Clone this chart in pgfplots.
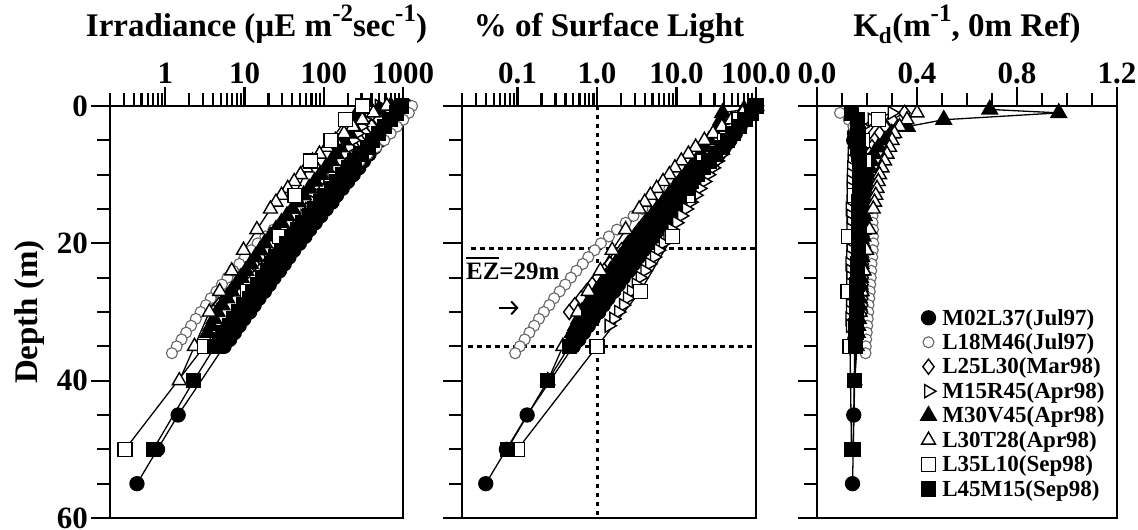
\documentclass[border=0pt]{standalone}
\usepackage{pgfplots}
\pgfplotsset{compat=1.18}
\usepackage{pgfplotstable}
\usepackage{fontspec}
\setmainfont{Liberation Serif}
\usetikzlibrary{arrows.meta}
\newcommand\tickfont{\fontsize{31}{31}\selectfont\bfseries}
\newcommand\titlefont{\fontsize{33}{33}\selectfont\bfseries}
\newcommand\legfont{\fontsize{23}{24}\selectfont\bfseries}
\newcommand\annfont{\fontsize{25}{25}\selectfont\bfseries}
\newcommand\sups[1]{\raisebox{0.45em}{\fontsize{25}{25}\selectfont #1}}

% z = depth (m), I = irradiance, P = % of surface light, K = Kd (0 m ref)
\pgfplotstableread{
z I P K
0 1100 100 nan
1 958 87.1 0.138
2 815 74.1 0.150
3 694 63.1 0.154
4 605 55.0 0.150
5 515 46.8 0.147
6 438 39.8 0.154
7 373 33.9 0.155
8 317 28.8 0.155
9 276 25.1 0.158
10 235 21.4 0.154
11 200 18.2 0.155
12 171 15.5 0.155
13 145 13.2 0.151
14 127 11.5 0.155
15 107 9.77 0.155
16 91.5 8.32 0.155
17 77.9 7.08 0.160
18 66.3 6.03 0.156
19 57.8 5.25 0.155
20 49.2 4.47 0.155
21 41.8 3.80 0.152
22 36.4 3.31 0.155
23 31.7 2.88 0.154
24 27.6 2.51 0.154
25 23.5 2.14 0.157
26 20.5 1.86 0.153
27 17.8 1.62 0.153
28 15.2 1.38 0.153
29 13.2 1.20 0.149
30 11.6 1.05 0.152
31 9.80 0.891 0.152
32 8.54 0.776 0.152
33 7.44 0.676 0.154
34 6.48 0.589 0.151
35 5.51 0.501 0.151
45 1.45 0.132 0.147
50 0.796 0.0724 0.145
55 0.438 0.0398 0.142
}\tA
\pgfplotstableread{
z I P K
0 1300 100 nan
1 1186 91.2 0.092
2 1009 77.6 0.127
3 840 64.6 0.146
4 698 53.7 0.155
5 581 44.7 0.161
6 462 35.5 0.173
7 358 27.5 0.184
8 285 21.9 0.190
9 221 17.0 0.197
10 176 13.5 0.200
11 137 10.5 0.205
12 106 8.13 0.209
13 80.2 6.17 0.214
14 62.3 4.79 0.217
15 48.4 3.72 0.220
16 37.4 2.88 0.222
17 29.8 2.29 0.222
18 23.1 1.78 0.224
19 18.3 1.41 0.224
20 14.6 1.12 0.225
21 12.1 0.933 0.223
22 10.1 0.776 0.221
23 8.59 0.661 0.218
24 7.15 0.550 0.217
25 6.08 0.468 0.215
26 5.17 0.398 0.213
27 4.41 0.339 0.211
28 3.74 0.288 0.209
29 3.26 0.251 0.206
30 2.78 0.214 0.205
31 2.42 0.186 0.203
32 2.11 0.162 0.201
33 1.83 0.141 0.199
34 1.60 0.123 0.197
35 1.39 0.107 0.195
36 1.21 0.0933 0.194
}\tB
\pgfplotstableread{
z I P K
0 900 100 nan
1 637 70.8 0.35
2 495 55.0 0.30
3 402 44.7 0.27
4 335 37.2 0.25
5 284 31.6 0.23
6 242 26.9 0.22
7 206 22.9 0.21
8 176 19.5 0.205
9 149 16.6 0.20
10 124 13.8 0.198
11 104 11.5 0.197
12 86.0 9.55 0.196
13 71.5 7.94 0.194
14 60.8 6.76 0.193
15 50.6 5.62 0.192
16 43.1 4.79 0.190
17 35.8 3.98 0.189
18 30.5 3.39 0.188
19 26.6 2.95 0.186
20 22.1 2.45 0.185
21 18.4 2.04 0.185
22 15.7 1.74 0.184
23 13.1 1.45 0.184
24 11.1 1.23 0.183
25 9.18 1.02 0.183
26 7.84 0.871 0.182
27 6.67 0.741 0.182
28 5.68 0.631 0.181
29 4.73 0.525 0.181
30 4.02 0.447 0.180
}\tC
\pgfplotstableread{
z I P K
0 500 100 nan
1 371 74.1 0.30
2 323 64.6 0.22
3 295 58.9 0.18
4 263 52.5 0.16
5 234 46.8 0.15
6 209 41.7 0.145
7 186 37.2 0.14
8 162 32.4 0.14
9 144 28.8 0.138
10 126 25.1 0.137
11 112 22.4 0.136
12 97.5 19.5 0.136
13 87.0 17.4 0.138
14 75.5 15.1 0.135
15 66.0 13.2 0.132
16 57.5 11.5 0.135
17 50.0 10.0 0.137
18 43.6 8.71 0.135
19 38.8 7.76 0.133
20 33.8 6.76 0.135
21 29.5 5.89 0.136
22 26.3 5.25 0.134
23 22.9 4.57 0.131
24 19.9 3.98 0.134
25 17.4 3.47 0.135
26 15.5 3.09 0.134
27 13.5 2.69 0.132
28 12.0 2.40 0.133
29 10.7 2.14 0.134
30 9.30 1.86 0.133
31 8.10 1.62 0.131
32 7.05 1.41 0.133
}\tD
\pgfplotstableread{
z I P K
0 700 100 nan
0.5 496 70.8 0.691
1 266 38.0 0.967
2 254 36.3 0.507
3 237 33.9 0.361
4 211 30.2 0.299
5 180 25.7 0.272
6 160 22.9 0.246
7 143 20.4 0.227
8 125 17.8 0.216
9 106 15.1 0.210
10 90.3 12.9 0.205
11 77.0 11.0 0.201
12 65.3 9.33 0.198
13 55.6 7.94 0.195
14 47.3 6.76 0.192
15 40.3 5.75 0.190
16 34.3 4.90 0.189
17 29.2 4.17 0.187
18 24.9 3.55 0.185
19 21.1 3.02 0.184
20 18.0 2.57 0.183
21 15.7 2.24 0.181
22 13.7 1.95 0.179
23 11.9 1.70 0.177
24 10.4 1.48 0.176
25 9.03 1.29 0.174
26 7.84 1.12 0.173
27 6.84 0.977 0.171
28 5.96 0.851 0.170
29 5.19 0.741 0.169
30 4.52 0.646 0.168
31 4.12 0.589 0.166
32 3.76 0.537 0.163
33 3.43 0.490 0.161
}\tE
\pgfplotstableread{
z I P K
0 625 100 nan
1 423 67.6 0.40
2 306 49.0 0.36
3 233 37.2 0.33
4 180 28.8 0.31
5 140 22.4 0.30
6 109 17.4 0.29
7 88.1 14.1 0.28
8 71.9 11.5 0.27
9 59.7 9.55 0.26
10 50.8 8.13 0.25
11 42.3 6.76 0.245
12 35.1 5.62 0.24
13 29.3 4.68 0.235
14 24.9 3.98 0.23
15 21.2 3.39 0.225
18 14.3 2.29 0.21
21 9.69 1.55 0.198
24 6.88 1.10 0.188
27 4.85 0.776 0.18
30 3.59 0.575 0.172
35 2.33 0.372 0.16
40 1.50 0.240 0.151
}\tF
\pgfplotstableread{
z I P K
0 310 100 nan
2 189 61.0 0.247
5 124 40.0 0.183
8 68.2 22.0 0.189
13 43.4 14.0 0.151
19 27.6 8.90 0.127
27 10.9 3.50 0.124
35 3.10 1.00 0.132
50 0.310 0.100 0.138
}\tG
\pgfplotstableread{
z I P K
0 950 100 nan
1 827 87.1 0.138
2 688 72.4 0.161
3 586 61.7 0.161
4 487 51.3 0.167
5 415 43.7 0.166
6 361 38.0 0.161
7 294 30.9 0.168
8 244 25.7 0.170
9 208 21.9 0.169
10 173 18.2 0.170
11 147 15.5 0.170
12 125 13.2 0.169
13 102 10.7 0.172
14 90.7 9.55 0.168
15 77.2 8.13 0.167
16 65.7 6.92 0.167
17 54.6 5.75 0.168
18 46.6 4.90 0.168
19 39.6 4.17 0.167
20 33.7 3.55 0.167
21 29.4 3.09 0.166
22 24.4 2.57 0.166
23 22.2 2.34 0.163
24 19.4 2.04 0.162
25 16.9 1.78 0.161
26 14.7 1.55 0.160
27 12.8 1.35 0.159
28 11.7 1.23 0.157
29 9.69 1.02 0.158
30 8.46 0.891 0.157
31 7.37 0.776 0.157
32 6.42 0.676 0.156
33 5.46 0.575 0.156
34 4.87 0.513 0.155
35 4.25 0.447 0.155
40 2.28 0.240 0.151
50 0.704 0.0741 0.144
}\tH

\pgfplotsset{
  panel/.style={
    scale only axis, height=412pt, ymin=0, ymax=60, y dir=reverse, clip=false,
    axis line style={line width=2.6pt},
    tick align=outside,
    xtick pos=right, xticklabel pos=right,
    ytick pos=left, yticklabel pos=left,
    ytick={0,20,40,60}, minor ytick={5,10,15,25,30,35,45,50,55},
    major tick length=19pt, minor tick length=13pt,
    every tick/.append style={black, line width=2.2pt},
    every minor tick/.append style={black, line width=2.2pt},
    tick label style={font=\tickfont, inner sep=3pt},
    /pgf/number format/assume math mode=true,
    title style={font=\titlefont, at={(axis description cs:0.5,1.155)}, anchor=base},
  },
  sA/.style={black, line width=1.3pt, mark=*, mark size=7pt, mark options={solid, fill=black}},
  sB/.style={black!60, line width=1.1pt, mark=*, mark size=5.5pt, mark options={solid, fill=white, draw=black!60, line width=1.1pt}},
  sC/.style={black, line width=1.3pt, mark=diamond*, mark size=7.5pt, mark options={solid, fill=white, line width=1.4pt}},
  sD/.style={black, line width=1.3pt, mark=triangle*, mark size=7.5pt, mark options={solid, fill=white, rotate=-90, line width=1.4pt}},
  sE/.style={black, line width=1.3pt, mark=triangle*, mark size=9pt, mark options={solid, fill=black}},
  sF/.style={black, line width=1.3pt, mark=triangle*, mark size=8pt, mark options={solid, fill=white, line width=1.4pt}},
  sG/.style={black, line width=1.3pt, mark=square*, mark size=7pt, mark options={solid, fill=white, line width=1.4pt}},
  sH/.style={black, line width=1.3pt, mark=square*, mark size=7pt, mark options={solid, fill=black}},
}

\begin{document}
\begin{tikzpicture}
\useasboundingbox (0,0) rectangle (1138pt,530pt);

% Panel 1: irradiance
\begin{axis}[panel, at={(110pt,12pt)}, anchor=south west, width=293pt,
  xmode=log, xmin=0.2, xmax=1000,
  xtick={1,10,100,1000}, xticklabels={1,10,100,1000},
  minor xtick={0.2,0.3,0.4,0.5,0.6,0.7,0.8,0.9,2,3,4,5,6,7,8,9,20,30,40,50,60,70,80,90,200,300,400,500,600,700,800,900},
  yticklabels={0,20,40,60},
  ylabel={Depth (m)},
  ylabel style={font=\titlefont, at={(axis description cs:-0.273,0.5)}, anchor=center},
  title={Irradiance (µE m\sups{-2}sec\sups{-1})}]
\addplot[sA] table[x=I,y=z] {\tA};
\addplot[sB] table[x=I,y=z] {\tB};
\addplot[sC] table[x=I,y=z] {\tC};
\addplot[sD] table[x=I,y=z] {\tD};
\addplot[sE] table[x=I,y=z] {\tE};
\addplot[sF] table[x=I,y=z] {\tF};
\addplot[sG] table[x=I,y=z] {\tG};
\addplot[sH] table[x=I,y=z] {\tH};
\end{axis}

% Panel 2: % of surface light
\begin{axis}[panel, at={(462pt,12pt)}, anchor=south west, width=294pt,
  xmode=log, xmin=0.02, xmax=100,
  xtick={0.1,1,10,100}, xticklabels={0.1,1.0,10.0,100.0},
  minor xtick={0.02,0.03,0.04,0.05,0.06,0.07,0.08,0.09,0.2,0.3,0.4,0.5,0.6,0.7,0.8,0.9,2,3,4,5,6,7,8,9,20,30,40,50,60,70,80,90},
  yticklabels={,,},
  title={\% of Surface Light}]
\draw[line width=3pt, dash pattern=on 4pt off 5pt] (axis cs:1,0) -- (axis cs:1,60);
\draw[line width=3pt, dash pattern=on 5pt off 4pt] (axis cs:0.026,20.8) -- (axis cs:100,20.8);
\draw[line width=3pt, dash pattern=on 5pt off 4pt] (axis cs:0.024,35) -- (axis cs:100,35);
\addplot[sA] table[x=P,y=z] {\tA};
\addplot[sB] table[x=P,y=z] {\tB};
\addplot[sC] table[x=P,y=z] {\tC};
\addplot[sD] table[x=P,y=z] {\tD};
\addplot[sE] table[x=P,y=z] {\tE};
\addplot[sF] table[x=P,y=z] {\tF};
\addplot[sG] table[x=P,y=z] {\tG};
\addplot[sH] table[x=P,y=z] {\tH};
\node[anchor=base west, font=\annfont, inner sep=0pt] at (axis cs:0.0224,25.3) {\makebox[0pt][l]{\rule[0.82em]{1.3em}{2.2pt}}EZ=29m};
\draw[line width=2pt, -{Straight Barb[length=6pt,width=13pt]}] (axis cs:0.058,29.4) -- (axis cs:0.103,29.4);
\end{axis}

% Panel 3: Kd
\begin{axis}[panel, at={(817pt,12pt)}, anchor=south west, width=300pt,
  xmin=0, xmax=1.2,
  xtick={0,0.4,0.8,1.2}, xticklabels={0.0,0.4,0.8,1.2},
  minor xtick={0.1,0.2,0.3,0.5,0.6,0.7,0.9,1.0,1.1},
  yticklabels={,,},
  title={K\textsubscript{d}(m\sups{-1}, 0m Ref)},
  legend cell align=left,
  legend style={at={(axis description cs:0.345,0.51)}, anchor=north west, draw=none, fill=none,
    font=\legfont, inner sep=0pt, row sep=5pt, column sep=5pt, nodes={inner sep=1pt}},
  legend image code/.code={\draw[#1] plot[only marks] coordinates {(0pt,0pt)};}]
\addplot[sA] table[x=K,y=z] {\tA}; \addlegendentry{M02L37(Jul97)}
\addplot[sB] table[x=K,y=z] {\tB}; \addlegendentry{L18M46(Jul97)}
\addplot[sC] table[x=K,y=z] {\tC}; \addlegendentry{L25L30(Mar98)}
\addplot[sD] table[x=K,y=z] {\tD}; \addlegendentry{M15R45(Apr98)}
\addplot[sE] table[x=K,y=z] {\tE}; \addlegendentry{M30V45(Apr98)}
\addplot[sF] table[x=K,y=z] {\tF}; \addlegendentry{L30T28(Apr98)}
\addplot[sG] table[x=K,y=z] {\tG}; \addlegendentry{L35L10(Sep98)}
\addplot[sH] table[x=K,y=z] {\tH}; \addlegendentry{L45M15(Sep98)}
\end{axis}
\end{tikzpicture}
\end{document}
